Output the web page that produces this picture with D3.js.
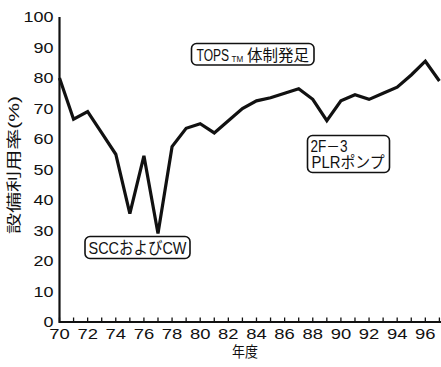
<!DOCTYPE html>
<html><head><meta charset="utf-8">
<script src="https://cdn.jsdelivr.net/npm/d3@7"></script>
<style>html,body{margin:0;padding:0;background:#fff;}</style>
</head><body>
<svg id="c" width="441" height="367"></svg>
<script>
const years = [70,71,72,73,74,75,76,77,78,79,80,81,82,83,84,85,86,87,88,89,90,91,92,93,94,95,96,97];
const rates = [80,66.5,69,62,55,35.5,54.5,29,57.5,63.5,65,62,66,70,72.5,73.5,75,76.5,73,66,72.5,74.5,73,75,77,81,85.5,79];
const xTickLabels = [70,72,74,76,78,80,82,84,86,88,90,92,94,96];
const yTickLabels = [0,10,20,30,40,50,60,70,80,90,100];
const yTitle = "設備利用率(%)";
const xTitle = "年度";

const FONT = "'Liberation Sans', Arial, 'Noto Sans CJK JP', sans-serif";
const svg = d3.select("#c");
const x = d3.scaleLinear().domain([70,97]).range([59.5,439.4]);
const y = d3.scaleLinear().domain([0,100]).range([322,17]);

// axes
svg.append("line").attr("x1",x(70)).attr("x2",441).attr("y1",y(0)).attr("y2",y(0))
  .attr("stroke","#111").attr("stroke-width",2.2);
svg.append("line").attr("x1",x(70)).attr("x2",x(70)).attr("y1",y(0)+1).attr("y2",y(100))
  .attr("stroke","#111").attr("stroke-width",2.2);

// x ticks (inward)
svg.selectAll(".xt").data(years).enter().append("line")
  .attr("x1",d=>x(d)).attr("x2",d=>x(d)).attr("y1",y(0)).attr("y2",y(0)-4.5)
  .attr("stroke","#111").attr("stroke-width",1.3);

// x tick labels
svg.selectAll(".xl").data(xTickLabels).enter().append("text")
  .attr("x",d=>x(d)).attr("y",338.5).attr("text-anchor","middle")
  .attr("font-family",FONT).attr("font-size",14.5).attr("fill","#111")
  .attr("textLength",20.5).attr("lengthAdjust","spacingAndGlyphs")
  .text(d=>d);

// y tick labels
svg.selectAll(".yl").data(yTickLabels).enter().append("text")
  .attr("x",53.5).attr("y",d=>y(d)+5).attr("text-anchor","end")
  .attr("font-family",FONT).attr("font-size",14.5).attr("fill","#111")
  .attr("textLength",d=>String(d).length*10).attr("lengthAdjust","spacingAndGlyphs")
  .text(d=>d);

// titles
svg.append("text").attr("transform","translate(19,165) rotate(-90)")
  .attr("text-anchor","middle").attr("font-family",FONT).attr("font-size",14.5).attr("fill","#111")
  .attr("textLength",138).attr("lengthAdjust","spacingAndGlyphs").text(yTitle);
svg.append("text").attr("x",245).attr("y",356.5).attr("text-anchor","middle")
  .attr("font-family",FONT).attr("font-size",14.5).attr("fill","#111")
  .attr("textLength",26).attr("lengthAdjust","spacingAndGlyphs").text(xTitle);

// data line
const line = d3.line().x((d,i)=>x(years[i])).y(d=>y(d));
svg.append("path").datum(rates).attr("d",line).attr("fill","none")
  .attr("stroke","#111").attr("stroke-width",3.2).attr("stroke-linejoin","miter");

// annotations
function box(x0,y0,w,h){
  svg.append("rect").attr("x",x0).attr("y",y0).attr("width",w).attr("height",h)
    .attr("rx",5).attr("ry",5).attr("fill","#fff").attr("stroke","#111").attr("stroke-width",1.6);
}
function txt(s,x0,y0,fs,len){
  svg.append("text").attr("x",x0).attr("y",y0).attr("font-family",FONT).attr("font-size",fs)
    .attr("fill","#111").attr("textLength",len).attr("lengthAdjust","spacingAndGlyphs").text(s);
}
function stxt(s,x0,y0,fs,sx){
  svg.append("text").attr("transform",`translate(${x0},${y0}) scale(${sx},1)`)
    .attr("font-family",FONT).attr("font-size",fs).attr("fill","#111").text(s);
}
box(191.5,43.5,122.5,21.5);
stxt("TOPS",196.5,60.8,17,0.71);
stxt("TM",231.5,61.5,9,0.9);
stxt("体制発足",247,60.5,15.5,1.0);

box(85,236.5,105,22);
txt("SCCおよびCW",88.5,254.2,17,98);

box(307.5,135.5,82,37);
txt("2F－3",310.5,151.5,16,37);
txt("PLRポンプ",311.5,168.3,16,73);
</script>
</body></html>
